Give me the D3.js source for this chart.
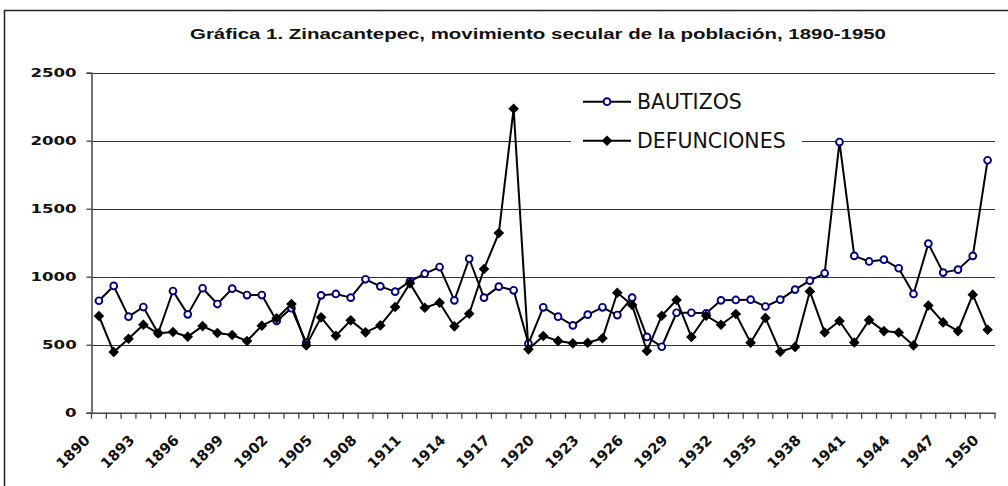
<!DOCTYPE html>
<html><head><meta charset="utf-8">
<script src="https://cdn.jsdelivr.net/npm/d3@7"></script>
<style>
html,body{margin:0;padding:0;background:#fff;}
svg{display:block;}
</style></head>
<body>
<svg id="chart" width="1008" height="486"></svg>
<script>
const years = [1890,1891,1892,1893,1894,1895,1896,1897,1898,1899,1900,1901,1902,1903,1904,1905,1906,1907,1908,1909,1910,1911,1912,1913,1914,1915,1916,1917,1918,1919,1920,1921,1922,1923,1924,1925,1926,1927,1928,1929,1930,1931,1932,1933,1934,1935,1936,1937,1938,1939,1940,1941,1942,1943,1944,1945,1946,1947,1948,1949,1950];
const bautizos = [823,932,706,777,584,895,723,915,799,912,865,865,674,768,515,863,873,846,981,929,890,966,1022,1071,826,1132,846,927,900,508,775,706,642,721,775,718,846,557,485,735,735,731,826,829,831,781,831,905,971,1025,1990,1153,1112,1125,1062,873,1243,1030,1052,1153,1856];
const defunciones = [711,446,544,647,584,593,559,637,586,571,527,640,694,799,495,701,566,679,591,642,777,951,772,809,635,728,1057,1321,2235,466,564,528,510,514,547,882,792,454,713,829,557,713,647,726,515,697,448,484,892,590,674,516,681,600,590,495,788,664,600,868,610];
const xTickLabels = ["1890","1893","1896","1899","1902","1905","1908","1911","1914","1917","1920","1923","1926","1929","1932","1935","1938","1941","1944","1947","1950"];
const yTickValues = [0,500,1000,1500,2000,2500];
const seriesNames = ["BAUTIZOS","DEFUNCIONES"];
const title = "Gráfica 1. Zinacantepec, movimiento secular de la población, 1890-1950";

const svg = d3.select("#chart");
const L = 91.5, R = 995, T = 72.7, B = 412.7;
const x = d3.scaleBand().domain(years).range([L, R]).padding(0);
const cx = d => x(d) + x.bandwidth()/2;
const y = d3.scaleLinear().domain([0, 2500]).range([B, T]);

// frame
svg.append("rect").attr("x",4.5).attr("y",10.5).attr("width",1020).attr("height",500)
  .attr("fill","none").attr("stroke","#222").attr("stroke-width",1.5);

// title
svg.append("text").attr("x",538).attr("y",38.5).attr("text-anchor","middle")
  .attr("font-family","Liberation Sans, Arial, sans-serif").attr("font-weight","bold").attr("font-size",14.5)
  .attr("textLength",696).attr("lengthAdjust","spacingAndGlyphs")
  .attr("fill","#111").text(title);

// gridlines
svg.append("g").selectAll("line").data(yTickValues.filter(v=>v>0)).join("line")
  .attr("x1",L).attr("x2",R).attr("y1",d=>Math.round(y(d))+0.5).attr("y2",d=>Math.round(y(d))+0.5)
  .attr("stroke","#333").attr("stroke-width",1.2);

// y axis
const yAxis = d3.axisLeft(y).tickValues(yTickValues).tickSize(5).tickFormat("");
const gy = svg.append("g").attr("transform",`translate(${L},0)`).call(yAxis);
gy.select(".domain").attr("stroke","#444").attr("stroke-width",1.5);
gy.selectAll(".tick line").attr("stroke","#444").attr("stroke-width",1.3);
svg.append("g").selectAll("text").data(yTickValues).join("text")
  .attr("transform",d=>`translate(76.7,${y(d)}) scale(1.3,1)`)
  .attr("text-anchor","end").attr("dy","0.36em")
  .attr("font-family","DejaVu Sans").attr("font-weight","bold").attr("font-size",12.8)
  .attr("fill","#111").text(d=>d);

// x axis
const xAxis = d3.axisBottom(x).tickSize(0).tickFormat("");
const gx = svg.append("g").attr("transform",`translate(0,${B})`).call(xAxis);
gx.select(".domain").attr("stroke","#444").attr("stroke-width",1.5);
const bounds = years.map(d=>x(d)).concat([x(years[years.length-1])+x.bandwidth()]);
svg.append("g").selectAll("line").data(bounds).join("line")
  .attr("x1",d=>d).attr("x2",d=>d).attr("y1",B).attr("y2",B+6)
  .attr("stroke","#444").attr("stroke-width",1.3);
svg.append("g").selectAll("text").data(xTickLabels).join("text")
  .attr("transform",d=>`translate(${cx(+d)-8},441) rotate(-45)`)
  .attr("text-anchor","end")
  .attr("font-family","DejaVu Sans").attr("font-weight","bold").attr("font-size",14.5)
  .attr("fill","#111").text(d=>d);

// legend background
svg.append("rect").attr("x",571).attr("y",84).attr("width",231).attr("height",74).attr("fill","#fff");

// series
const line = d3.line().x((d,i)=>cx(years[i])).y(d=>y(d));
svg.append("path").datum(bautizos).attr("d",line).attr("fill","none")
  .attr("stroke","#000").attr("stroke-width",2).attr("stroke-linejoin","round");
svg.append("g").selectAll("circle").data(bautizos).join("circle")
  .attr("cx",(d,i)=>cx(years[i])).attr("cy",d=>y(d)).attr("r",3.4)
  .attr("fill","#fff").attr("stroke","#000080").attr("stroke-width",1.9);

const diamond = d3.symbol().type(d3.symbolDiamond2).size(72);
svg.append("path").datum(defunciones).attr("d",line).attr("fill","none")
  .attr("stroke","#000").attr("stroke-width",2).attr("stroke-linejoin","round");
svg.append("g").selectAll("path").data(defunciones).join("path")
  .attr("d",diamond).attr("transform",(d,i)=>`translate(${cx(years[i])},${y(d)})`)
  .attr("fill","#000");

// legend
const lg = svg.append("g");
const rows = [{name:seriesNames[0], yy:101.7},{name:seriesNames[1], yy:140.7}];
rows.forEach((r,i)=>{
  lg.append("line").attr("x1",583).attr("x2",631).attr("y1",r.yy).attr("y2",r.yy)
    .attr("stroke","#000").attr("stroke-width",2);
  if(i===0){
    lg.append("circle").attr("cx",607).attr("cy",r.yy).attr("r",3.4)
      .attr("fill","#fff").attr("stroke","#000080").attr("stroke-width",1.9);
  } else {
    lg.append("path").attr("d",diamond).attr("transform",`translate(607,${r.yy})`).attr("fill","#000");
  }
  lg.append("text").attr("x",637).attr("y",r.yy).attr("dy","0.36em")
    .attr("font-family","DejaVu Sans").attr("font-size",20.5).attr("fill","#111").text(r.name);
});
</script>
</body></html>
